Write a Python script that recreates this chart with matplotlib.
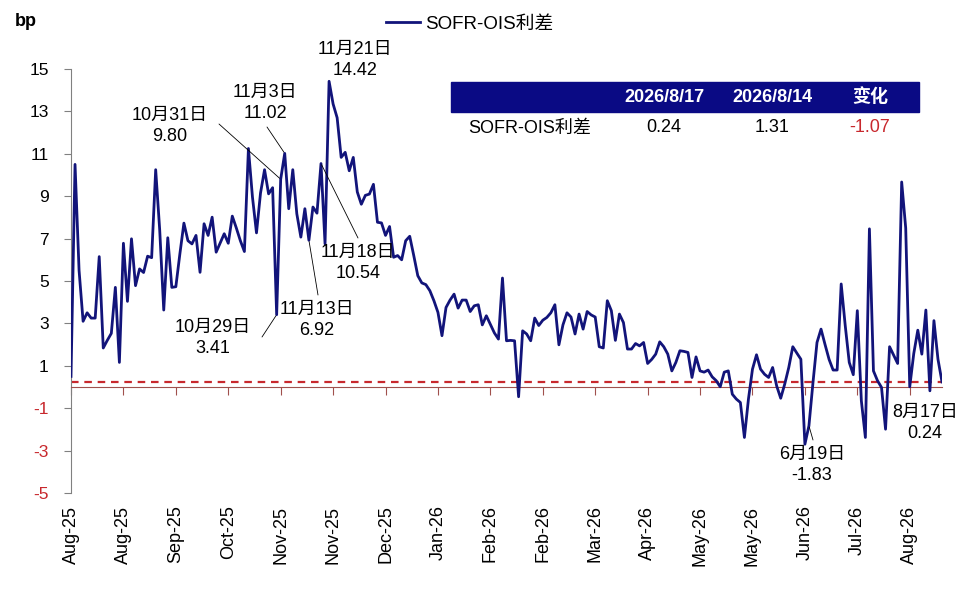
import matplotlib
matplotlib.use('Agg')
import matplotlib.pyplot as plt
from matplotlib.patches import Rectangle
import numpy as np

plt.rcParams['font.family'] = ['Liberation Sans', 'Noto Sans CJK SC']
plt.rcParams['axes.unicode_minus'] = False

# ---------------- data ----------------
series_name = 'SOFR-OIS利差'
values = [
    0.5, 10.5, 5.5, 3.1, 3.5, 3.25, 3.25, 6.15, 1.84, 2.2,
    2.53, 4.7, 1.16, 6.78, 4.04, 6.99, 4.78, 5.57, 5.4, 6.17,
    6.1, 10.25, 7.4, 3.63, 7.04, 4.7, 4.73, 6.28, 7.73, 6.9,
    6.75, 7.15, 5.41, 7.70, 7.15, 8.01, 6.36, 6.8, 7.23, 6.78,
    8.06, 7.5, 6.9, 6.39, 11.25, 8.96, 7.27, 9.15, 10.25, 9.11,
    9.4, 3.41, 9.80, 11.02, 8.41, 10.25, 8.17, 7.07, 8.41, 6.92,
    8.49, 8.2, 10.54, 6.75, 14.42, 13.35, 12.7, 10.83, 11.07, 10.2,
    10.83, 9.2, 8.62, 9.04, 9.1, 9.56, 7.77, 7.74, 7.15, 7.57,
    6.12, 6.2, 6.0, 6.9, 7.11, 6.2, 5.25, 4.91, 4.83, 4.54,
    4.07, 3.52, 2.42, 3.75, 4.1, 4.38, 3.72, 4.1, 4.1, 3.56,
    3.83, 3.88, 2.93, 3.36, 2.95, 2.55, 2.26, 5.14, 2.18, 2.2,
    2.18, -0.46, 2.65, 2.5, 2.18, 3.25, 2.9, 3.15, 3.28, 3.5,
    3.88, 1.99, 2.93, 3.5, 3.3, 2.5, 3.44, 2.73, 3.56, 3.4,
    3.3, 1.9, 1.84, 4.07, 3.6, 2.2, 3.44, 3.04, 1.79, 1.79,
    2.05, 1.94, 2.1, 1.11, 1.3, 1.55, 2.13, 1.9, 1.55, 0.76,
    1.16, 1.71, 1.68, 1.63, 0.45, 1.42, 0.76, 0.7, 0.8, 0.48,
    0.3, 0.01, 0.7, 0.76, -0.34, -0.57, -0.73, -2.38, -0.57, 0.84,
    1.52, 0.84, 0.6, 0.45, 0.92, 0.05, -0.53, 0.14, 0.92, 1.9,
    1.6, 1.31, -2.7, -1.83, 0.2, 2.1, 2.73, 2.0, 1.3, 0.8,
    0.8, 4.86, 2.9, 1.16, 0.58, 3.6, -0.65, -2.38, 7.46, 0.76,
    0.3, -0.02, -1.99, 1.9, 1.5, 1.11, 9.67, 7.5, 0.01, 1.58,
    2.68, 1.55, 3.63, -0.18, 3.13, 1.31, 0.24,
]
tick_labels = ['Aug-25', 'Aug-25', 'Sep-25', 'Oct-25', 'Nov-25', 'Nov-25',
               'Dec-25', 'Jan-26', 'Feb-26', 'Feb-26', 'Mar-26', 'Apr-26',
               'May-26', 'May-26', 'Jun-26', 'Jul-26', 'Aug-26']
tick_step = 13
y_ticks = [-5, -3, -1, 1, 3, 5, 7, 9, 11, 13, 15]

anno_idx = [51, 52, 53, 59, 62, 64, 183, 216]
anno_dates = ['10月29日', '10月31日', '11月3日', '11月13日', '11月18日',
              '11月21日', '6月19日', '8月17日']

table_dates = ['2026/8/17', '2026/8/14']
table_change_label = '变化'

# ---------------- styles / layout ----------------
W, H = 966, 593
NAVY = '#12147a'
RED = '#c8282d'
AXRED = '#a0504c'
GRAY = '#808080'

# text centers (pixels from top-left) and leader-line start points
anno_text_px = [(213, 338), (170, 126), (265, 103), (317, 320), (358, 263),
                (355, 60), (812, 465), (925, 423)]
anno_leader_px = [(262, 337), (219, 124), (267, 127), (318, 295), (358, 238),
                  None, (813, 440), None]

fig = plt.figure(figsize=(W / 100, H / 100), dpi=100)
ax = fig.add_axes([71 / W, 1 - 493 / H, (942 - 71) / W, (493 - 69) / H])

x = np.arange(len(values))
line, = ax.plot(x, values, color=NAVY, lw=2.0, label=series_name, zorder=3)
ax.axhline(values[-1], color=RED, lw=1.6, ls=(0, (3.4, 2.6)), zorder=2)

ax.set_xlim(0, len(values) - 1)
ax.set_ylim(-5, 15)

for s in ('top', 'right'):
    ax.spines[s].set_visible(False)
ax.spines['left'].set_color(GRAY)
ax.spines['left'].set_linewidth(0.8)
ax.spines['bottom'].set_position(('data', 0))
ax.spines['bottom'].set_color(AXRED)
ax.spines['bottom'].set_linewidth(0.8)

ax.set_yticks(y_ticks)
ax.set_yticklabels([str(v) for v in y_ticks])
ax.tick_params(axis='y', direction='out', length=5, width=0.8, color=GRAY,
               pad=11, labelsize=12.5)
for lbl, v in zip(ax.get_yticklabels(), y_ticks):
    lbl.set_color(RED if v < 0 else 'black')

tick_pos = list(range(0, len(values), tick_step))[:len(tick_labels)]
ax.set_xticks(tick_pos)
ax.tick_params(axis='x', direction='out', length=6, width=0.8, color=AXRED,
               labelbottom=False)

sec = ax.secondary_xaxis('bottom')
sec.set_xticks(tick_pos)
sec.set_xticklabels(tick_labels, rotation=90)
sec.tick_params(length=0, pad=9, labelsize=13)
sec.spines['bottom'].set_visible(False)

# annotations
for i, d, (tx, ty), lead in zip(anno_idx, anno_dates, anno_text_px, anno_leader_px):
    ax.annotate(f'{d}\n{values[i]:.2f}', xy=(i, values[i]),
                xytext=(tx, H - ty), textcoords='figure pixels',
                ha='center', va='center', fontsize=13, linespacing=1.25,
                annotation_clip=False, zorder=5)
    if lead is not None:
        ax.annotate('', xy=(i, values[i]), xytext=(lead[0], H - lead[1]),
                    textcoords='figure pixels', annotation_clip=False,
                    arrowprops=dict(arrowstyle='-', lw=0.6, color='black',
                                    shrinkA=0, shrinkB=1))

# legend
fig.legend(handles=[line], labels=[series_name], loc='center',
           bbox_to_anchor=(470 / W, 1 - 24 / H), frameon=False, fontsize=13.5,
           handlelength=1.8, handletextpad=0.3)

# unit label
fig.text(15 / W, 1 - 22 / H, 'bp', fontsize=13, fontweight='bold',
         ha='left', va='center')

# table
fig.add_artist(Rectangle((451 / W, 1 - 112 / H), 468 / W, 30 / H,
                         transform=fig.transFigure, color='#0a0a84', zorder=1))
col_x = [664, 772, 870]
for cx, t in zip(col_x, table_dates + [table_change_label]):
    fig.text(cx / W, 1 - 97 / H, t, color='white', fontsize=13,
             fontweight='bold', ha='center', va='center', zorder=2)
latest, prev = values[-1], values[-2]
change = latest - prev
fig.text(530 / W, 1 - 128 / H, series_name, fontsize=13, ha='center', va='center')
fig.text(col_x[0] / W, 1 - 128 / H, f'{latest:.2f}', fontsize=13, ha='center', va='center')
fig.text(col_x[1] / W, 1 - 128 / H, f'{prev:.2f}', fontsize=13, ha='center', va='center')
fig.text(col_x[2] / W, 1 - 128 / H, f'{change:.2f}', fontsize=13, ha='center',
         va='center', color=RED)

fig.savefig('out.png', dpi=100)
